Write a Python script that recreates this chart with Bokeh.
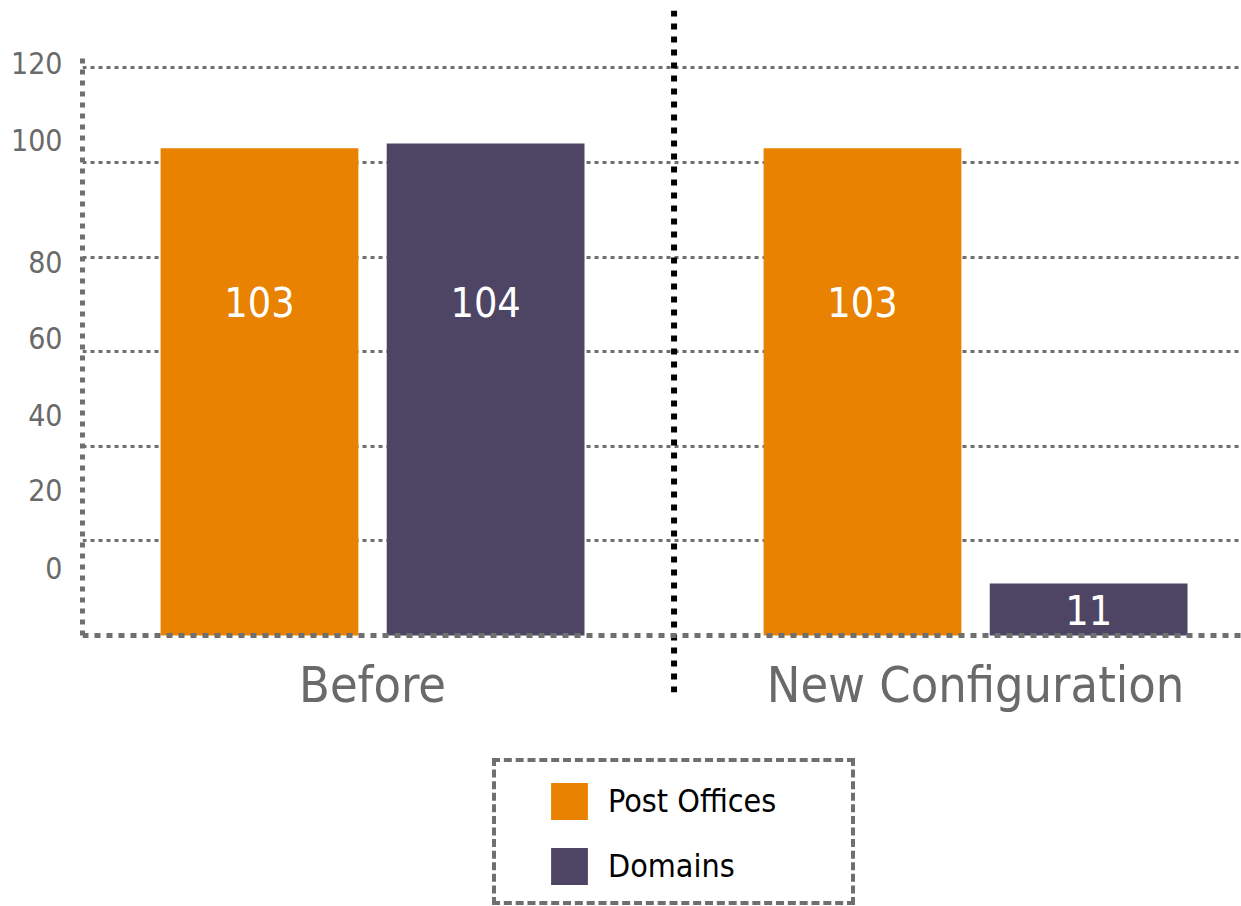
import numpy as np
from bokeh.plotting import figure
from bokeh.models import ColumnDataSource, Range1d, FixedTicker, Legend, LegendItem
from bokeh.transform import dodge
from bokeh.core.properties import value
from bokeh.embed import file_html
from bokeh.resources import INLINE

# ---- data ----
CATEGORIES = ["Before", "New Configuration"]
SERIES = ["Post Offices", "Domains"]
POST_OFFICES = [103, 103]
DOMAINS = [104, 11]
Y_TICK_LABELS = ["0", "20", "40", "60", "80", "100", "120"]
GRID_VALUES = [20, 40, 60, 80, 100, 120]

# ---- style ----
FONT = "DejaVu Sans Condensed"
ORANGE = "#E88200"
PURPLE = "#4E4565"
GRAY = "#6f6f6f"
TEXT_GRAY = "#6a6a6a"
# where the (misaligned) y tick labels sit in the original picture
Y_LABEL_POS = [14.2, 30.7, 46.7, 62.8, 78.9, 104.7, 121.1]
DIVIDER_BOTTOM = -12.0

x_pos = np.arange(len(CATEGORIES)) + 0.5
po = np.array(POST_OFFICES, dtype=float)
dm = np.array(DOMAINS, dtype=float)


def label_y(v):
    return np.where(v > 30, 70.5, v / 2.0)


src = ColumnDataSource(dict(
    x=x_pos, po=po, dm=dm,
    po_txt=[str(v) for v in POST_OFFICES], dm_txt=[str(v) for v in DOMAINS],
    po_ly=label_y(po), dm_ly=label_y(dm),
))

Y_END = 132.14
p = figure(width=1241, height=906, output_backend="svg", toolbar_location=None,
           x_range=Range1d(0.019, 1.941), y_range=Range1d(-57.29, Y_END))
p.min_border_left = 82
p.min_border_right = 0
p.min_border_top = 10
p.min_border_bottom = 0
p.outline_line_color = None
p.background_fill_color = "white"
p.border_fill_color = "white"

# grid
p.xgrid.visible = False
p.ygrid.ticker = FixedTicker(ticks=GRID_VALUES)
p.ygrid.grid_line_color = GRAY
p.ygrid.grid_line_width = 3
p.ygrid.grid_line_dash = "4 4"

OFF = 0.1875
BW = 0.328
r_po = p.vbar(x=dodge("x", -OFF, range=p.x_range), top="po", bottom=0, width=BW,
              source=src, fill_color=ORANGE, line_color=None)
r_dm = p.vbar(x=dodge("x", OFF, range=p.x_range), top="dm", bottom=0, width=BW,
              source=src, fill_color=PURPLE, line_color=None)

for col, ly, off in (("po_txt", "po_ly", -OFF), ("dm_txt", "dm_ly", OFF)):
    p.text(x=dodge("x", off, range=p.x_range), y=ly, text=col, source=src,
           text_color="white", text_font=value(FONT), text_font_size="41px",
           text_align="center", text_baseline="middle")

# y axis
ya = p.yaxis[0]
ya.ticker = FixedTicker(ticks=Y_LABEL_POS)
ya.major_label_overrides = {pos: lab for pos, lab in zip(Y_LABEL_POS, Y_TICK_LABELS)}
ya.bounds = (0, 122)
ya.axis_line_color = GRAY
ya.axis_line_width = 5
ya.axis_line_dash = "5 6"
ya.major_tick_line_color = None
ya.minor_tick_line_color = None
ya.major_tick_out = 0
ya.minor_tick_out = 0
ya.major_label_standoff = 20
ya.major_label_text_font = FONT
ya.major_label_text_font_size = "30px"
ya.major_label_text_color = TEXT_GRAY

# x axis, drawn at y = 0
xa = p.xaxis[0]
xa.fixed_location = 0
xa.ticker = FixedTicker(ticks=list(x_pos))
xa.major_label_overrides = {float(x): c for x, c in zip(x_pos, CATEGORIES)}
xa.axis_line_color = GRAY
xa.axis_line_width = 5
xa.axis_line_dash = "6 6"
xa.major_tick_line_color = None
xa.minor_tick_line_color = None
xa.major_tick_out = 0
xa.minor_tick_out = 0
xa.major_label_standoff = 20
xa.major_label_text_font = FONT
xa.major_label_text_font_size = "50px"
xa.major_label_text_color = TEXT_GRAY

# divider between the two groups
div_x = float(x_pos[0] + 0.5)
p.segment(x0=[div_x], y0=[Y_END], x1=[div_x], y1=[DIVIDER_BOTTOM],
          line_color="black", line_width=6, line_dash="6 7")

# legend frame (dashed box) and legend items
dummy = p.vbar(x=[], top=[], width=0.1, fill_alpha=0, line_alpha=0)
box = Legend(items=[LegendItem(label=" ", renderers=[dummy])],
             location=(410, 1), padding=0, margin=0, spacing=0,
             glyph_width=335, glyph_height=139, label_standoff=0,
             label_text_font_size="1px", label_text_alpha=0,
             border_line_color=GRAY, border_line_alpha=1, border_line_width=4,
             border_line_dash="4 4",
             background_fill_color="white", background_fill_alpha=1)
p.add_layout(box, "center")

leg = Legend(items=[LegendItem(label=SERIES[0], renderers=[r_po]),
                    LegendItem(label=SERIES[1], renderers=[r_dm])],
             location=(464, 17), padding=0, margin=0, spacing=19,
             glyph_width=46, glyph_height=46, label_standoff=16,
             label_text_font=FONT, label_text_font_size="32px", label_text_color="black",
             border_line_color=None, background_fill_alpha=0)
p.add_layout(leg, "center")

open("out.html", "w").write(file_html(p, INLINE))
